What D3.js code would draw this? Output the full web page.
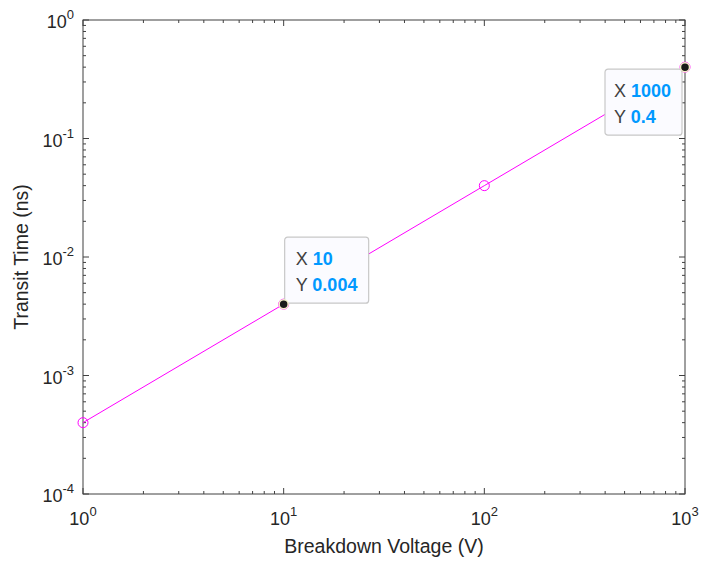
<!DOCTYPE html>
<html>
<head>
<meta charset="utf-8">
<script src="https://cdn.jsdelivr.net/npm/d3@7"></script>
<style>
  body { margin: 0; background: #fff; }
  svg { font-family: "Liberation Sans", Arial, sans-serif; }
</style>
</head>
<body>
<div class="chart"></div>
<script>
// data
const voltage = [1, 10, 100, 1000];
const transit = [0.0004, 0.004, 0.04, 0.4];
const xTicks = [1, 10, 100, 1000];
const yTicks = [1e-4, 1e-3, 1e-2, 1e-1, 1];
const tipPoints = [1, 3]; // indices with datatips

const width = 702, height = 561;
const margin = {left: 83, right: 17, top: 20, bottom: 67};

const svg = d3.select(".chart").append("svg")
    .attr("width", width)
    .attr("height", height);

const x = d3.scaleLog().domain([1, 1000]).range([margin.left, width - margin.right]);
const y = d3.scaleLog().domain([1e-4, 1]).range([height - margin.bottom, margin.top]);

const axisColor = "#404040";

// minor ticks
const minorX = [], minorY = [];
for (let d = 1; d < 1000; d *= 10) for (let k = 2; k <= 9; k++) minorX.push(d * k);
for (let d = 1e-4; d < 0.9; d *= 10) for (let k = 2; k <= 9; k++) minorY.push(d * k);

const ticksG = svg.append("g").attr("stroke", axisColor).attr("stroke-width", 1);
const x0 = margin.left, x1 = width - margin.right, y0 = height - margin.bottom, y1 = margin.top;

function tickX(v, len) {
  ticksG.append("line").attr("x1", x(v)).attr("x2", x(v)).attr("y1", y0).attr("y2", y0 - len);
  ticksG.append("line").attr("x1", x(v)).attr("x2", x(v)).attr("y1", y1).attr("y2", y1 + len);
}
function tickY(v, len) {
  ticksG.append("line").attr("y1", y(v)).attr("y2", y(v)).attr("x1", x0).attr("x2", x0 + len);
  ticksG.append("line").attr("y1", y(v)).attr("y2", y(v)).attr("x1", x1).attr("x2", x1 - len);
}
minorX.forEach(v => tickX(v, 3));
minorY.forEach(v => tickY(v, 3));
xTicks.forEach(v => tickX(v, 6));
yTicks.forEach(v => tickY(v, 6));

// box
svg.append("rect")
    .attr("x", x0).attr("y", y1)
    .attr("width", x1 - x0).attr("height", y0 - y1)
    .attr("fill", "none").attr("stroke", axisColor).attr("stroke-width", 1);

// tick labels
const exp = v => Math.round(Math.log10(v));
const xl = svg.append("g").attr("fill", "#262626").attr("font-size", 18);
xTicks.forEach(v => {
  const t = xl.append("text").attr("x", x(v)).attr("y", y0 + 31).attr("text-anchor", "middle");
  t.append("tspan").text("10");
  t.append("tspan").attr("dy", -9).attr("font-size", 13).text(exp(v));
});
yTicks.forEach(v => {
  const t = xl.append("text").attr("x", x0 - 9).attr("y", y(v) + 8).attr("text-anchor", "end");
  t.append("tspan").text("10");
  t.append("tspan").attr("dy", -9).attr("font-size", 13).text(exp(v));
});

// axis labels
svg.append("text")
    .attr("x", (x0 + x1) / 2).attr("y", height - 8)
    .attr("text-anchor", "middle").attr("font-size", 19.5).attr("fill", "#262626")
    .text("Breakdown Voltage (V)");
svg.append("text")
    .attr("transform", `translate(28,${(y0 + y1) / 2}) rotate(-90)`)
    .attr("text-anchor", "middle").attr("font-size", 19.5).attr("fill", "#262626")
    .text("Transit Time (ns)");

// line + markers
const pts = voltage.map((v, i) => [v, transit[i]]);
svg.append("path")
    .datum(pts)
    .attr("fill", "none").attr("stroke", "#ff00ff").attr("stroke-width", 1)
    .attr("d", d3.line().x(d => x(d[0])).y(d => y(d[1])));
svg.append("g").selectAll("circle").data(pts).join("circle")
    .attr("cx", d => x(d[0])).attr("cy", d => y(d[1])).attr("r", 5)
    .attr("fill", "none").attr("stroke", "#ff00ff").attr("stroke-width", 1);

// datatips
const tipBoxes = [
  {dx: 1, dy: -67, w: 84, pad: 11},   // box lower-left at point
  {dx: -80, dy: 2, w: 77, pad: 9}     // box upper-right at point
];
tipPoints.forEach((idx, k) => {
  const px = x(voltage[idx]), py = y(transit[idx]);
  const b = tipBoxes[k];
  const g = svg.append("g").attr("transform", `translate(${px + b.dx},${py + b.dy})`);
  g.append("rect").attr("width", b.w).attr("height", 66).attr("rx", 3)
      .attr("fill", "#fbfbff").attr("stroke", "#c8c8c8").attr("stroke-width", 1.2);
  const lines = [["X", voltage[idx]], ["Y", transit[idx]]];
  lines.forEach((ln, j) => {
    const t = g.append("text").attr("x", b.pad).attr("y", 28 + j * 25.5).attr("font-size", 18);
    t.append("tspan").attr("fill", "#404040").text(ln[0] + " ");
    t.append("tspan").attr("fill", "#0099ff").attr("font-weight", "bold").text(ln[1]);
  });
  svg.append("circle").attr("cx", px).attr("cy", py).attr("r", 4.5)
      .attr("fill", "#1a1a1a").attr("stroke", "#f4f0c8").attr("stroke-width", 1.5);
});
</script>
</body>
</html>
